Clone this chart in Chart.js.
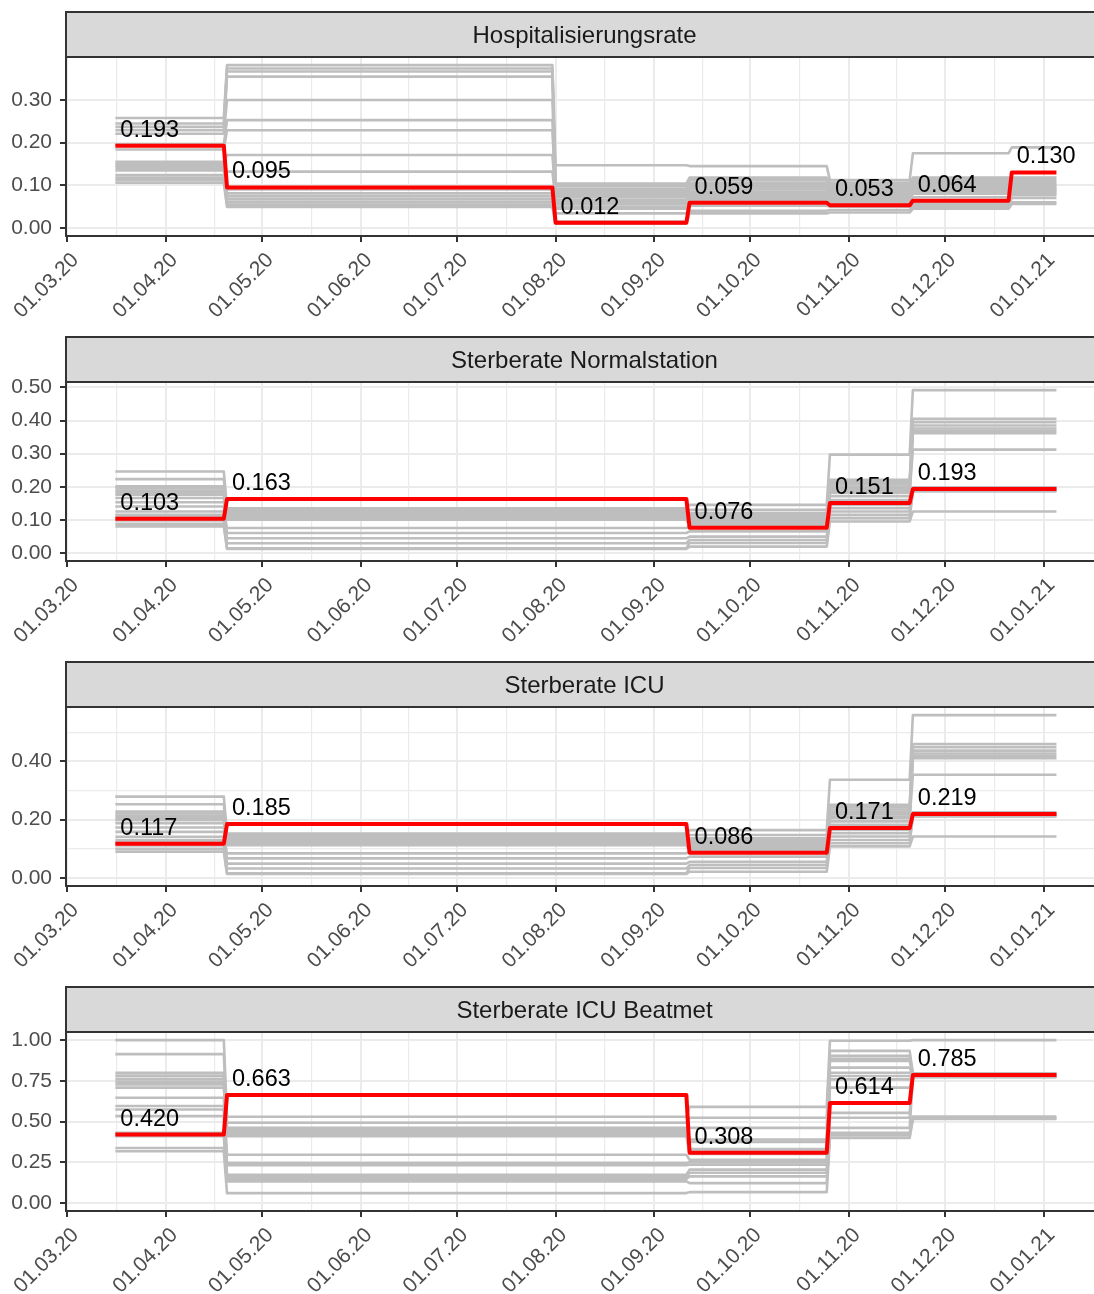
<!DOCTYPE html>
<html>
<head>
<meta charset="utf-8">
<script src="https://cdn.jsdelivr.net/npm/chart.js@4.4.1/dist/chart.umd.min.js"></script>
<style>
  html, body { margin: 0; padding: 0; background: #fff; overflow: hidden; }
  .panel { position: absolute; left: 0; width: 1110px; height: 325px; }
</style>
</head>
<body>
<div class="panel" style="top:0px"><canvas id="p1" width="1110" height="325"></canvas></div>
<div class="panel" style="top:325px"><canvas id="p2" width="1110" height="325"></canvas></div>
<div class="panel" style="top:650px"><canvas id="p3" width="1110" height="325"></canvas></div>
<div class="panel" style="top:975px"><canvas id="p4" width="1110" height="325"></canvas></div>
<script>
// x axis: month ticks and labels
const monthTicks  = ['2020-03-01','2020-04-01','2020-05-01','2020-06-01','2020-07-01','2020-08-01',
                     '2020-09-01','2020-10-01','2020-11-01','2020-12-01','2021-01-01'];
const monthLabels = ['01.03.20','01.04.20','01.05.20','01.06.20','01.07.20','01.08.20',
                     '01.09.20','01.10.20','01.11.20','01.12.20','01.01.21'];
const endDate = '2021-01-05';

// Hospitalisierungsrate
const hospStarts = ['2020-03-16','2020-04-20','2020-08-01','2020-09-12','2020-10-26','2020-11-21','2020-12-22'];
const hospRed    = [0.193, 0.095, 0.012, 0.059, 0.053, 0.064, 0.130];
const hospGray = [
  [0.258, 0.245, 0.237, 0.229, 0.221, 0.196, 0.184, 0.155, 0.150, 0.146, 0.141, 0.135, 0.124, 0.118, 0.112, 0.106],
  [0.382, 0.374, 0.367, 0.355, 0.300, 0.253, 0.229, 0.171, 0.132, 0.090, 0.081, 0.074, 0.067, 0.060, 0.054, 0.049],
  [0.147, 0.104, 0.098, 0.092, 0.087, 0.082, 0.077, 0.072, 0.066, 0.061, 0.056, 0.050, 0.045, 0.034, 0.015, 0.010],
  [0.145, 0.118, 0.112, 0.106, 0.100, 0.095, 0.090, 0.085, 0.080, 0.075, 0.070, 0.066, 0.062, 0.052, 0.040, 0.034],
  [0.112, 0.106, 0.101, 0.096, 0.092, 0.088, 0.084, 0.080, 0.076, 0.072, 0.068, 0.063, 0.058, 0.050, 0.042, 0.036],
  [0.175, 0.118, 0.113, 0.108, 0.104, 0.100, 0.096, 0.092, 0.088, 0.084, 0.080, 0.072, 0.060, 0.055, 0.050, 0.045],
  [0.189, 0.118, 0.113, 0.108, 0.104, 0.100, 0.096, 0.093, 0.090, 0.087, 0.084, 0.081, 0.077, 0.070, 0.060, 0.056]
];
const hospYTicks = [0, 0.1, 0.2, 0.3];

// Sterberate Normalstation / ICU / ICU Beatmet share the same periods
const rateStarts = ['2020-03-16','2020-04-20','2020-09-12','2020-10-26','2020-11-21'];

const normRed = [0.103, 0.163, 0.076, 0.151, 0.193];
const normGray = [
  [0.246, 0.223, 0.201, 0.195, 0.188, 0.181, 0.176, 0.166, 0.153, 0.140, 0.125, 0.115, 0.108, 0.098, 0.088, 0.080],
  [0.135, 0.131, 0.127, 0.123, 0.119, 0.115, 0.111, 0.107, 0.103, 0.100, 0.075, 0.060, 0.044, 0.029, 0.014, 0.012],
  [0.145, 0.130, 0.120, 0.115, 0.110, 0.105, 0.100, 0.095, 0.090, 0.085, 0.080, 0.065, 0.049, 0.039, 0.030, 0.019],
  [0.297, 0.221, 0.214, 0.207, 0.200, 0.193, 0.186, 0.181, 0.171, 0.160, 0.145, 0.135, 0.125, 0.115, 0.105, 0.095],
  [0.492, 0.405, 0.395, 0.385, 0.376, 0.369, 0.362, 0.312, 0.198, 0.196, 0.194, 0.192, 0.190, 0.188, 0.186, 0.125]
];
const normYTicks = [0, 0.1, 0.2, 0.3, 0.4, 0.5];

const icuRed = [0.117, 0.185, 0.086, 0.171, 0.219];
const icuGray = [
  [0.279, 0.253, 0.228, 0.221, 0.213, 0.205, 0.199, 0.188, 0.173, 0.158, 0.141, 0.130, 0.122, 0.111, 0.100, 0.090],
  [0.152, 0.147, 0.142, 0.137, 0.132, 0.128, 0.124, 0.120, 0.116, 0.112, 0.084, 0.067, 0.049, 0.032, 0.016, 0.013],
  [0.164, 0.147, 0.136, 0.130, 0.124, 0.119, 0.113, 0.108, 0.102, 0.096, 0.090, 0.073, 0.055, 0.044, 0.034, 0.021],
  [0.337, 0.251, 0.243, 0.235, 0.227, 0.219, 0.211, 0.205, 0.194, 0.182, 0.165, 0.153, 0.142, 0.130, 0.119, 0.108],
  [0.559, 0.460, 0.449, 0.437, 0.427, 0.419, 0.411, 0.354, 0.225, 0.222, 0.220, 0.218, 0.216, 0.213, 0.211, 0.142]
];
const icuYTicks = [0, 0.2, 0.4];

const ventRed = [0.420, 0.663, 0.308, 0.614, 0.785];
const ventGray = [
  [1.000, 0.914, 0.800, 0.782, 0.762, 0.745, 0.728, 0.708, 0.646, 0.595, 0.574, 0.533, 0.430, 0.410, 0.337, 0.317],
  [0.529, 0.492, 0.461, 0.450, 0.440, 0.430, 0.420, 0.410, 0.296, 0.245, 0.232, 0.173, 0.160, 0.146, 0.132, 0.060],
  [0.590, 0.523, 0.461, 0.389, 0.375, 0.330, 0.315, 0.300, 0.265, 0.250, 0.235, 0.204, 0.185, 0.163, 0.121, 0.066],
  [0.996, 0.934, 0.903, 0.885, 0.872, 0.831, 0.800, 0.780, 0.759, 0.708, 0.553, 0.523, 0.461, 0.430, 0.415, 0.399],
  [1.000, 0.796, 0.793, 0.790, 0.788, 0.786, 0.784, 0.782, 0.780, 0.778, 0.776, 0.774, 0.772, 0.530, 0.520, 0.515]
];
const ventYTicks = [0, 0.25, 0.5, 0.75, 1.0];

const FONT = '"Liberation Sans", Arial, Helvetica, sans-serif';
const day = s => (Date.parse(s) - Date.parse('2020-03-01')) / 864e5;

function stepPoints(starts, values) {
  const pts = [];
  starts.forEach((s, k) => {
    const x1 = k < starts.length - 1 ? day(starts[k + 1]) - 1 : day(endDate);
    pts.push({ x: day(s), y: values[k] }, { x: x1, y: values[k] });
  });
  return pts;
}

// major ticks plus minor ones halfway between (ggplot style grid)
const xMajor = monthTicks.map(day);
const xTicks = [];
xMajor.forEach((v, i) => {
  xTicks.push({ value: v, lbl: monthLabels[i] });
  if (i < xMajor.length - 1) xTicks.push({ value: (v + xMajor[i + 1]) / 2, minor: true });
});

const gridWidth = ctx => (ctx.tick && ctx.tick.minor ? 1.2 : 2);
const tickCol = ctx => (ctx.tick && ctx.tick.minor ? 'rgba(0,0,0,0)' : '#333333');

const facet = {
  id: 'facet',
  beforeDraw(chart, args, o) {
    const { ctx, chartArea: a } = chart;
    ctx.save();
    ctx.fillStyle = '#d9d9d9';
    ctx.fillRect(a.left, 12, a.right - a.left, a.top - 12);
    ctx.strokeStyle = '#333333';
    ctx.lineWidth = 2;
    ctx.strokeRect(a.left, 12, a.right - a.left, a.top - 12);
    ctx.fillStyle = '#1a1a1a';
    ctx.font = '24px ' + FONT;
    ctx.textAlign = 'center';
    ctx.textBaseline = 'alphabetic';
    ctx.fillText(o.title, (a.left + a.right) / 2, 43);
    ctx.restore();
  },
  afterDatasetsDraw(chart, args, o) {
    const { ctx, scales: { x, y } } = chart;
    ctx.save();
    ctx.fillStyle = '#000000';
    ctx.font = '23.5px ' + FONT;
    ctx.textAlign = 'left';
    ctx.textBaseline = 'alphabetic';
    o.starts.forEach((s, k) => {
      ctx.fillText(o.red[k].toFixed(3), x.getPixelForValue(day(s)) + 5, y.getPixelForValue(o.red[k]) - 9);
    });
    ctx.restore();
  },
  afterDraw(chart) {
    const { ctx, chartArea: a } = chart;
    ctx.save();
    ctx.strokeStyle = '#333333';
    ctx.lineWidth = 2;
    ctx.strokeRect(a.left, a.top, a.right - a.left, a.bottom - a.top);
    ctx.restore();
  }
};

function drawPanel(id, title, starts, red, gray, yTicks, yMin, yMax) {
  const step = yTicks[1] - yTicks[0];
  const yAll = [];
  yTicks.forEach(v => {
    yAll.push({ value: v });
    if (v + step / 2 <= yMax) yAll.push({ value: v + step / 2, minor: true });
  });

  const datasets = [{
    data: stepPoints(starts, red),
    borderColor: '#ff0000',
    borderWidth: 4,
    order: 0
  }];
  for (let i = 0; i < gray[0].length; i++) {
    datasets.push({
      data: stepPoints(starts, gray.map(seg => seg[i])),
      borderColor: '#bebebe',
      borderWidth: 2.6,
      order: 1
    });
  }

  new Chart(document.getElementById(id), {
    type: 'line',
    data: { datasets },
    plugins: [facet],
    options: {
      responsive: false,
      animation: false,
      layout: { padding: { top: 57, right: 7, bottom: 0, left: 0 } },
      elements: {
        point: { radius: 0 },
        line: { tension: 0, borderJoinStyle: 'round', borderCapStyle: 'butt' }
      },
      plugins: {
        legend: { display: false },
        tooltip: { enabled: false },
        facet: { title, starts, red }
      },
      scales: {
        x: {
          type: 'linear',
          min: -0.47,
          max: 324.6,
          afterBuildTicks: s => { s.ticks = xTicks.map(t => ({ ...t })); },
          afterFit: s => { s.height = 89; },
          border: { display: false },
          grid: { color: '#ebebeb', lineWidth: gridWidth, tickLength: 6, tickWidth: 2, tickColor: tickCol },
          ticks: {
            autoSkip: false,
            minRotation: 45,
            maxRotation: 45,
            labelOffset: 8,
            padding: 6,
            color: '#4d4d4d',
            font: { family: FONT, size: 21 },
            callback: (v, i, t) => t[i].lbl || ''
          }
        },
        y: {
          min: yMin,
          max: yMax,
          afterBuildTicks: s => { s.ticks = yAll.map(t => ({ ...t })); },
          afterFit: s => { s.width = 66; },
          border: { display: false },
          grid: { color: '#ebebeb', lineWidth: gridWidth, tickLength: 6, tickWidth: 2, tickColor: tickCol },
          ticks: {
            padding: 8,
            color: '#4d4d4d',
            font: { family: FONT, size: 21 },
            callback: (v, i, t) => (t[i].minor ? '' : v.toFixed(2))
          }
        }
      }
    }
  });
}

drawPanel('p1', 'Hospitalisierungsrate', hospStarts, hospRed, hospGray, hospYTicks, -0.019, 0.401);
drawPanel('p2', 'Sterberate Normalstation', rateStarts, normRed, normGray, normYTicks, -0.0246, 0.5166);
drawPanel('p3', 'Sterberate ICU', rateStarts, icuRed, icuGray, icuYTicks, -0.028, 0.587);
drawPanel('p4', 'Sterberate ICU Beatmet', rateStarts, ventRed, ventGray, ventYTicks, -0.05, 1.05);
</script>
</body>
</html>
